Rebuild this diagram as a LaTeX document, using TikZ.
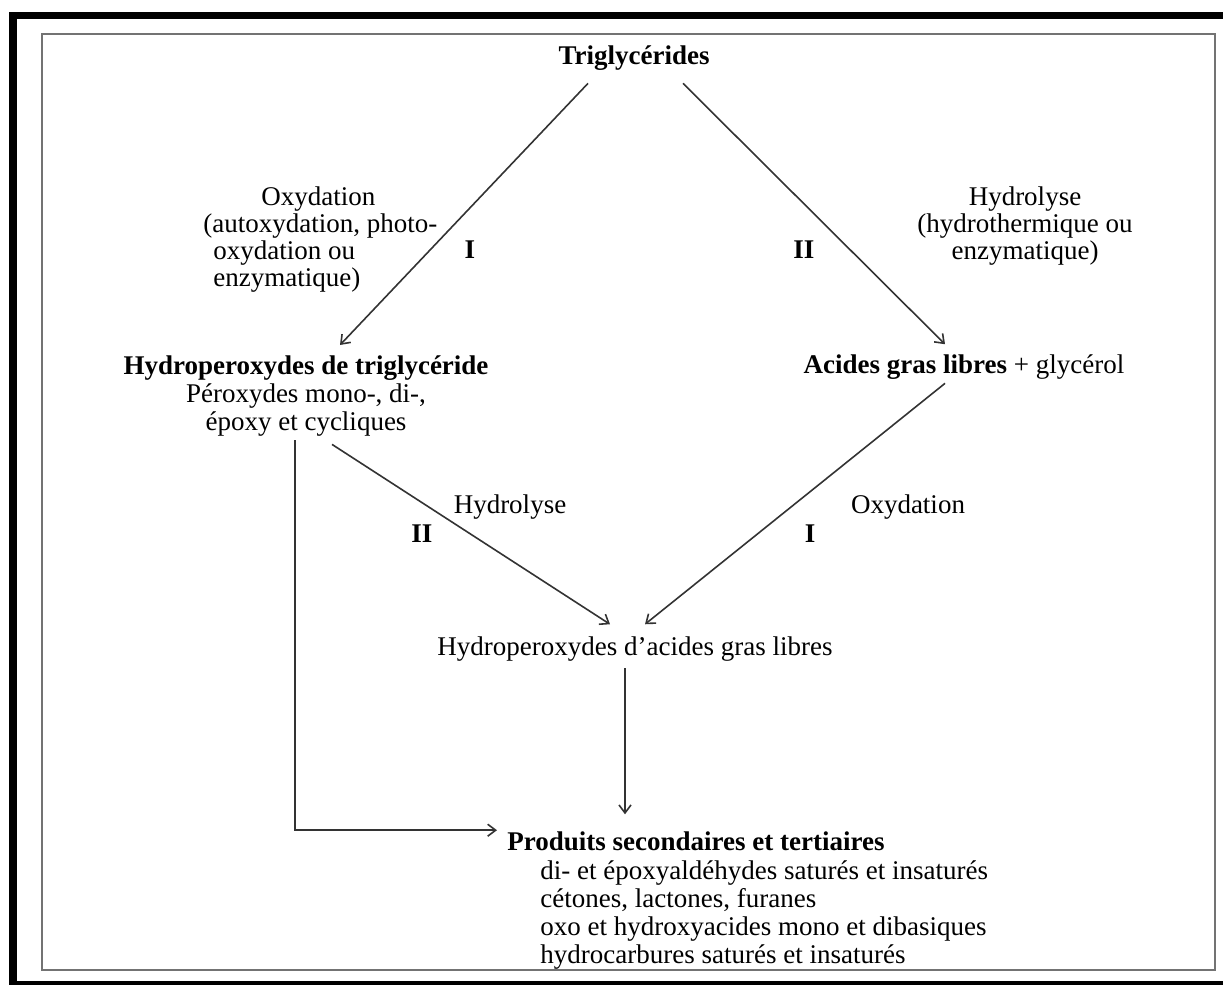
\documentclass[tikz,border=0pt]{standalone}
\usepackage{fontspec}
\setmainfont{Liberation Serif}
\usetikzlibrary{arrows.meta,positioning}

\begin{document}
\begin{tikzpicture}[
    x=0.5pt, y=-0.5pt,
    >={Straight Barb[length=4pt,width=6pt]},
    txt/.style={font=\fontsize{13.5}{14}\selectfont},
    bf/.style={font=\fontsize{13.5}{14}\selectfont\bfseries},
    lbl/.style={font=\fontsize{13.5}{13.5}\selectfont},
    every node/.style={txt, inner sep=2pt},
    arr/.style={->, draw=black!80, line width=0.8pt}
  ]
    % cadre
    \useasboundingbox (0,0) rectangle (1223,985);
    \fill (9,12) rectangle (1223,19);
    \fill (9,12) rectangle (17,985);
    \fill (9,981) rectangle (1223,985);
    \draw[black!55, line width=0.9pt] (42,34) rectangle (1215,970);

    % noeuds
    \node[bf, anchor=base] (trig) at (634,64) {Triglycérides};
    \node[align=center, anchor=north] (hpt) at (306,351)
      {\textbf{Hydroperoxydes de triglycéride}\\Péroxydes mono-, di-,\\époxy et cycliques};
    \node[anchor=base] (agl) at (964,373) {\textbf{Acides gras libres} + glycérol};
    \node[anchor=base] (hag) at (635,655) {Hydroperoxydes d'acides gras libres};
    \node[bf, anchor=base west] (prod) at (503,850) {Produits secondaires et tertiaires};
    \node[below=1pt of prod.south west, anchor=north west, xshift=16.5pt, align=left] (prodlist)
      {di- et époxyaldéhydes saturés et insaturés\\cétones, lactones, furanes\\oxo et hydroxyacides mono et dibasiques\\hydrocarbures saturés et insaturés};

    % étiquettes
    \node[lbl, align=left, anchor=north west] (oxy) at (199,182)
      {\hspace*{29pt}Oxydation\\(autoxydation, photo-\\\hspace*{5pt}oxydation ou\\\hspace*{5pt}enzymatique)};
    \node[lbl, align=center, anchor=north] (hyd) at (1025,182) {Hydrolyse\\(hydrothermique ou\\enzymatique)};
    \node[bf, anchor=base] (r1) at (470,258) {I};
    \node[bf, anchor=base] (r2) at (804,258) {II};
    \node[anchor=base] (hyd2) at (510,513) {Hydrolyse};
    \node[bf, anchor=base] (r2b) at (422,542) {II};
    \node[anchor=base] (oxy2) at (908,513) {Oxydation};
    \node[bf, anchor=base] (r1b) at (810,542) {I};

    % flèches
    \draw[arr] ([xshift=-23pt,yshift=-4.5pt]trig.south) -- ([xshift=17pt,yshift=3pt]hpt.north);
    \draw[arr] ([xshift=24.5pt,yshift=-4.5pt]trig.south) -- ([xshift=-9.5pt,yshift=2.8pt]agl.north);
    \draw[arr] ([xshift=13pt,yshift=-2pt]hpt.south) -- ([xshift=-12.5pt,yshift=3.8pt]hag.north);
    \draw[arr] ([xshift=-9.5pt]agl.south) -- ([xshift=5pt,yshift=3.8pt]hag.north);
    \coordinate (hagout) at ([xshift=-5pt,yshift=-1.5pt]hag.south);
    \draw[arr, shorten >=6.3pt] (hagout) -- (hagout |- prod.north);
    \draw[arr] ([xshift=-5.5pt]hpt.south) |- ([xshift=-3pt,yshift=5.3pt]prod.west);

  \end{tikzpicture}
\end{document}
